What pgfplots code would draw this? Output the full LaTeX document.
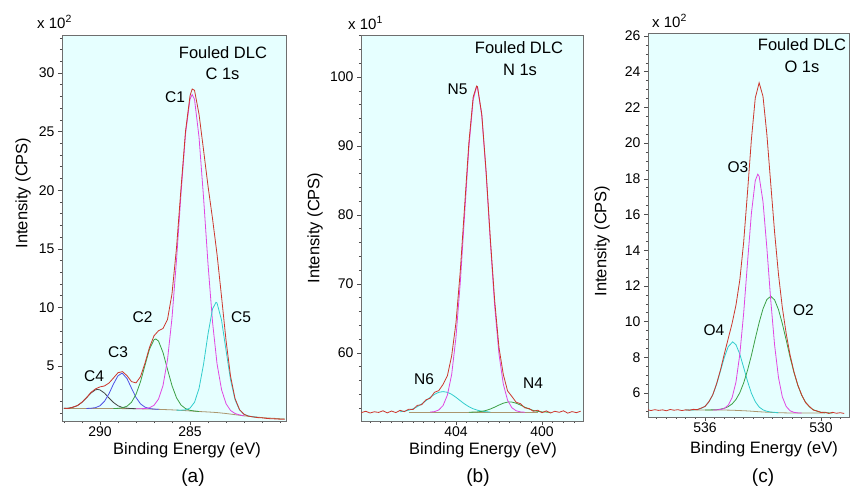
\documentclass[border=0pt]{standalone}
\usepackage{fontspec}
\setmainfont{Liberation Sans}
\usepackage{pgfplots}
\pgfplotsset{compat=1.18}
\definecolor{bgc}{RGB}{230,255,255}
\definecolor{envred}{RGB}{205,55,45}
\definecolor{cmag}{RGB}{225,70,225}
\definecolor{ccyan}{RGB}{50,205,205}
\definecolor{cgreen}{RGB}{60,160,70}
\definecolor{cblue}{RGB}{80,80,230}
\definecolor{cgray}{RGB}{70,70,70}
\definecolor{ctan}{RGB}{170,150,110}
\definecolor{frm}{RGB}{110,110,110}
\pgfplotsset{
 xps/.style={
  scale only axis,
  x dir=reverse,
  axis background/.style={fill=bgc},
  axis line style={frm, line width=0.8pt},
  tick align=outside,
  tick pos=left,
  major tick length=4pt,
  minor tick length=2.2pt,
  every tick/.style={frm!70!black, line width=0.6pt},
  tick label style={font=\fontsize{14}{16}\selectfont},
  xticklabel style={yshift=1.5pt},
  /pgf/number format/assume math mode=true,
  /pgf/number format/1000 sep={},
  every axis plot/.append style={mark=none, line width=0.8pt},
 }
}
\newcommand{\lab}{\fontsize{16.5}{18}\selectfont}
\newcommand{\pk}{\fontsize{15.5}{17}\selectfont}
\begin{document}
\begin{tikzpicture}
\path[use as bounding box] (0pt,0pt) rectangle (850pt,494pt);
% ---------------- panel (a) C 1s ----------------
\begin{axis}[xps, at={(62pt,73pt)}, anchor=south west, width=224pt, height=386pt,
 xmin=279.67, xmax=292.11, ymin=0.31, ymax=33.24,
 xtick={285,290}, minor xtick={280,281,...,292},
 ytick={5,10,...,30}, minor ytick={1,2,...,33}]
% baseline
\addplot[ctan] coordinates {(292.0,1.38)(291.0,1.38)(290.0,1.38)(289.0,1.37)(288.0,1.36)(287.0,1.32)(286.0,1.26)(285.5,1.22)(285.0,1.17)(284.5,1.12)(284.0,1.08)(283.5,1.03)(283.0,0.95)(282.5,0.85)(282.0,0.75)(281.5,0.67)(281.0,0.60)(280.5,0.55)(280.0,0.51)(279.75,0.50)};
% C4
\addplot[cgray] coordinates {(292.0,1.39)(291.75,1.41)(291.5,1.48)(291.25,1.63)(291.0,1.90)(290.75,2.29)(290.5,2.70)(290.25,2.97)(290.13,3.00)(290.0,2.96)(289.75,2.69)(289.5,2.27)(289.25,1.89)(289.0,1.61)(288.75,1.46)(288.5,1.40)(288.25,1.37)(288.0,1.36)};
% C3
\addplot[cblue] coordinates {(290.75,1.38)(290.5,1.40)(290.25,1.45)(290.0,1.61)(289.75,1.99)(289.5,2.64)(289.25,3.47)(289.0,4.17)(288.8,4.37)(288.75,4.36)(288.5,3.93)(288.25,3.11)(288.0,2.32)(287.75,1.77)(287.5,1.49)(287.25,1.37)(287.0,1.33)(286.75,1.30)};
% C2
\addplot[cgreen] coordinates {(289.25,1.37)(289.0,1.39)(288.75,1.44)(288.5,1.57)(288.25,1.91)(288.0,2.58)(287.75,3.66)(287.5,5.07)(287.25,6.44)(287.0,7.24)(286.9,7.31)(286.75,7.13)(286.5,6.15)(286.25,4.71)(286.0,3.32)(285.75,2.29)(285.5,1.67)(285.25,1.37)(285.0,1.22)(284.75,1.16)(284.5,1.12)};
% C1
\addplot[cmag] coordinates {(288.0,1.36)(287.75,1.36)(287.5,1.37)(287.25,1.44)(287.0,1.65)(286.75,2.18)(286.5,3.34)(286.25,5.54)(286.0,9.11)(285.75,14.04)(285.5,19.72)(285.25,24.80)(285.0,27.77)(284.88,28.16)(284.75,27.75)(284.5,24.52)(284.25,19.40)(284.0,13.68)(283.75,8.75)(283.5,5.19)(283.25,2.99)(283.0,1.79)(282.75,1.21)(282.5,0.95)(282.25,0.83)(282.0,0.75)};
% C5
\addplot[ccyan] coordinates {(285.75,1.24)(285.5,1.23)(285.25,1.26)(285.0,1.41)(284.75,1.91)(284.5,3.08)(284.25,5.14)(284.0,7.74)(283.75,9.87)(283.56,10.43)(283.5,10.37)(283.25,8.92)(283.0,6.34)(282.75,3.83)(282.5,2.13)(282.25,1.25)(282.0,0.88)(281.75,0.74)(281.5,0.67)(281.25,0.63)};
% envelope / spectrum
\addplot[envred] coordinates {(292.0,1.40)(291.75,1.37)(291.5,1.50)(291.25,1.62)(291.0,1.92)(290.75,2.30)(290.5,2.75)(290.25,3.05)(290.0,3.22)(289.75,3.30)(289.5,3.55)(289.25,3.98)(289.0,4.43)(288.75,4.52)(288.5,4.18)(288.25,3.67)(288.0,3.56)(287.75,4.09)(287.5,5.25)(287.25,6.59)(287.0,7.58)(286.75,8.01)(286.5,8.20)(286.25,8.98)(286.0,11.17)(285.75,15.09)(285.5,20.18)(285.25,25.03)(285.0,28.06)(284.88,28.63)(284.75,28.52)(284.5,26.48)(284.25,23.44)(284.0,20.34)(283.75,17.57)(283.5,14.53)(283.25,10.92)(283.0,7.18)(282.75,4.14)(282.5,2.23)(282.25,1.28)(282.0,0.88)(281.75,0.72)(281.5,0.66)(281.25,0.60)(281.0,0.58)(280.75,0.53)(280.5,0.50)(280.25,0.49)(280.0,0.46)(279.75,0.45)};
\end{axis}
% ---------------- panel (b) N 1s ----------------
\begin{axis}[xps, at={(361pt,73pt)}, anchor=south west, width=222pt, height=386pt,
 xmin=398.09, xmax=408.42, ymin=50.14, ymax=106.09,
 xtick={400,404}, minor xtick={398.5,399,...,408},
 ytick={60,70,...,100}, minor ytick={52,54,...,106}]
\addplot[ctan] coordinates {(406.2,51.4)(400.2,51.4)};
% N6
\addplot[ccyan] coordinates {(406.6,51.48)(406.4,51.56)(406.2,51.70)(406.0,51.91)(405.8,52.21)(405.6,52.61)(405.4,53.08)(405.2,53.57)(405.0,54.00)(404.8,54.30)(404.6,54.40)(404.4,54.30)(404.2,54.00)(404.0,53.57)(403.8,53.08)(403.6,52.61)(403.4,52.21)(403.2,51.91)(403.0,51.70)(402.8,51.56)(402.6,51.48)(402.4,51.44)};
% N4
\addplot[cgreen] coordinates {(403.4,51.41)(403.2,51.43)(403.0,51.46)(402.8,51.54)(402.6,51.67)(402.4,51.88)(402.2,52.15)(402.0,52.45)(401.8,52.72)(401.6,52.88)(401.5,52.90)(401.4,52.88)(401.2,52.72)(401.0,52.45)(400.8,52.15)(400.6,51.88)(400.4,51.67)(400.2,51.54)(400.0,51.46)(399.8,51.43)(399.6,51.41)};
% N5
\addplot[cmag] coordinates {(405.2,51.43)(405.0,51.50)(404.8,51.74)(404.6,52.39)(404.4,53.90)(404.2,56.90)(404.0,62.30)(403.8,70.20)(403.6,80.00)(403.4,89.80)(403.2,96.70)(403.04,98.60)(403.0,98.50)(402.8,94.40)(402.6,86.10)(402.4,76.00)(402.2,66.80)(402.0,59.85)(401.8,55.51)(401.6,53.15)(401.4,52.06)(401.2,51.62)(401.0,51.46)(400.8,51.41)};
% spectrum
\addplot[envred] coordinates {(408.4,51.35)(408.2,51.55)(408.0,51.30)(407.8,51.48)(407.6,51.38)(407.4,51.62)(407.2,51.32)(407.0,51.58)(406.8,51.36)(406.6,51.68)(406.4,51.50)(406.2,51.85)(406.0,51.80)(405.8,52.40)(405.6,52.50)(405.4,53.20)(405.2,53.45)(405.0,54.30)(404.8,54.55)(404.6,55.45)(404.4,56.70)(404.2,59.60)(404.0,64.40)(403.8,71.90)(403.6,81.20)(403.4,90.50)(403.2,97.10)(403.04,98.70)(403.0,98.60)(402.8,94.60)(402.6,86.40)(402.4,76.50)(402.2,67.60)(402.0,60.80)(401.8,56.90)(401.6,54.50)(401.4,53.70)(401.2,52.85)(401.0,52.65)(400.8,52.05)(400.6,51.95)(400.4,51.55)(400.2,51.70)(400.0,51.35)(399.8,51.60)(399.6,51.30)(399.4,51.55)(399.2,51.40)(399.0,51.62)(398.8,51.28)(398.6,51.50)(398.4,51.35)(398.2,51.55)};
\end{axis}
% ---------------- panel (c) O 1s ----------------
\begin{axis}[xps, at={(648pt,77pt)}, anchor=south west, width=201pt, height=384pt,
 xmin=528.55, xmax=538.95, ymin=4.66, ymax=26.17,
 xtick={530,536}, minor xtick={529,529.5,...,538.5},
 ytick={6,8,...,26}, minor ytick={5,5.5,...,26}]
\addplot[ctan] coordinates {(537.0,5.05)(535.0,5.05)(534.6,5.04)(534.2,5.02)(533.8,5.00)(533.4,4.97)(533.0,4.94)(532.6,4.92)(532.2,4.90)(531.8,4.89)(531.4,4.88)(529.8,4.88)};
% O4
\addplot[ccyan] coordinates {(537.0,5.05)(536.8,5.05)(536.6,5.06)(536.4,5.08)(536.2,5.14)(536.0,5.26)(535.8,5.50)(535.6,5.90)(535.4,6.49)(535.2,7.24)(535.0,8.00)(534.8,8.60)(534.57,8.87)(534.4,8.71)(534.2,8.18)(534.0,7.43)(533.8,6.66)(533.6,5.99)(533.4,5.52)(533.2,5.22)(533.0,5.06)(532.8,4.98)(532.6,4.94)(532.4,4.92)(532.2,4.90)};
% O2
\addplot[cgreen] coordinates {(536.0,5.05)(535.6,5.06)(535.4,5.07)(535.2,5.10)(535.0,5.15)(534.8,5.24)(534.6,5.39)(534.4,5.64)(534.2,6.02)(534.0,6.57)(533.8,7.28)(533.6,8.11)(533.4,9.05)(533.2,9.95)(533.0,10.72)(532.8,11.24)(532.6,11.42)(532.4,11.22)(532.2,10.68)(532.0,9.89)(531.8,8.97)(531.6,8.01)(531.4,7.16)(531.2,6.44)(531.0,5.88)(530.8,5.49)(530.6,5.23)(530.4,5.07)(530.2,4.98)(530.0,4.93)(529.8,4.90)(529.6,4.89)(529.4,4.88)};
% O3
\addplot[cmag] coordinates {(535.6,5.05)(535.4,5.06)(535.2,5.08)(535.0,5.14)(534.8,5.32)(534.6,5.74)(534.4,6.61)(534.2,8.17)(534.0,10.48)(533.8,13.33)(533.6,16.07)(533.4,17.90)(533.27,18.26)(533.2,18.14)(533.0,16.72)(532.8,14.13)(532.6,11.21)(532.4,8.69)(532.2,6.88)(532.0,5.79)(531.8,5.25)(531.6,5.01)(531.4,4.92)(531.2,4.89)(531.0,4.88)};
% spectrum
\addplot[envred] coordinates {(539.0,5.08)(538.8,5.02)(538.6,5.07)(538.4,5.03)(538.2,5.06)(538.0,5.01)(537.8,5.08)(537.6,5.04)(537.4,5.07)(537.2,5.02)(537.0,5.06)(536.8,5.04)(536.6,5.09)(536.4,5.07)(536.2,5.16)(536.0,5.25)(535.8,5.52)(535.6,5.90)(535.4,6.53)(535.2,7.30)(535.0,8.20)(534.8,9.05)(534.6,9.90)(534.4,10.92)(534.2,12.33)(534.0,14.46)(533.8,17.27)(533.6,20.21)(533.4,22.53)(533.2,23.38)(533.0,22.62)(532.8,20.49)(532.6,17.73)(532.4,15.01)(532.2,12.66)(532.0,10.79)(531.8,9.33)(531.6,8.14)(531.4,7.20)(531.2,6.45)(531.0,5.90)(530.8,5.47)(530.6,5.25)(530.4,5.05)(530.2,5.00)(530.0,4.91)(529.8,4.93)(529.6,4.86)(529.4,4.92)(529.2,4.87)(529.0,4.90)(528.8,4.86)};
\end{axis}
% ---------------- texts ----------------
\begin{scope}[every node/.style={inner sep=0pt}]
% multipliers
\node[anchor=west, font=\fontsize{15}{17}\selectfont] at (37pt,472pt) {x 10\textsuperscript{2}};
\node[anchor=west, font=\fontsize{15}{17}\selectfont] at (348pt,471pt) {x 10\textsuperscript{1}};
\node[anchor=west, font=\fontsize{15}{17}\selectfont] at (652pt,473pt) {x 10\textsuperscript{2}};
% titles
\node[font=\lab] at (223pt,441pt) {Fouled DLC};
\node[font=\lab] at (222.5pt,420pt) {C 1s};
\node[font=\lab] at (519pt,446pt) {Fouled DLC};
\node[font=\lab] at (520pt,424pt) {N 1s};
\node[font=\lab] at (802pt,449pt) {Fouled DLC};
\node[font=\lab] at (802pt,427pt) {O 1s};
% peak labels
\node[font=\pk] at (175pt,397pt) {C1};
\node[font=\pk] at (142.5pt,177pt) {C2};
\node[font=\pk] at (118pt,142pt) {C3};
\node[font=\pk] at (94pt,118pt) {C4};
\node[font=\pk] at (241pt,177pt) {C5};
\node[font=\pk] at (457.5pt,405pt) {N5};
\node[font=\pk] at (424pt,115pt) {N6};
\node[font=\pk] at (533pt,111pt) {N4};
\node[font=\pk] at (738pt,327pt) {O3};
\node[font=\pk] at (714pt,164pt) {O4};
\node[font=\pk] at (803.5pt,184pt) {O2};
% axis labels
\node[font=\lab, rotate=90] at (23pt,301pt) {Intensity (CPS)};
\node[font=\lab, rotate=90] at (315pt,266pt) {Intensity (CPS)};
\node[font=\lab, rotate=90] at (602pt,253pt) {Intensity (CPS)};
\node[font=\lab] at (187pt,44pt) {Binding Energy (eV)};
\node[font=\lab] at (483pt,44pt) {Binding Energy (eV)};
\node[font=\lab] at (764pt,45pt) {Binding Energy (eV)};
% panel letters
\node[font=\fontsize{19}{21}\selectfont] at (193pt,16pt) {(a)};
\node[font=\fontsize{19}{21}\selectfont] at (478pt,16pt) {(b)};
\node[font=\fontsize{19}{21}\selectfont] at (763pt,16pt) {(c)};
\end{scope}
\end{tikzpicture}
\end{document}
